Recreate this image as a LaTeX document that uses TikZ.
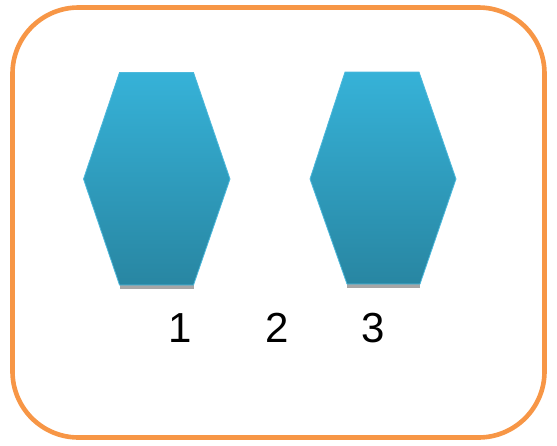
\documentclass[tikz,border=0pt]{standalone}
\usepackage{fontspec}
\setmainfont{Liberation Sans}
\definecolor{frameorange}{HTML}{F79646}
\definecolor{hextop}{HTML}{36B2D8}
\definecolor{hexbot}{HTML}{2886A2}
\definecolor{hexrim}{HTML}{4DB9DC}
\definecolor{hexfoot}{HTML}{A6A6A6}
\tikzset{
  hexcell/.style={top color=hextop, bottom color=hexbot, draw=hexrim, line width=0.8pt},
  numlabel/.style={font=\fontsize{42}{42}\selectfont, inner sep=0pt}
}
\begin{document}
\begin{tikzpicture}[x=1pt, y=-1pt]
  \useasboundingbox (0,0) rectangle (557,445);
  % Frame
  \draw[line width=4.6pt, frameorange, rounded corners=66pt] (12.5,7.5) rectangle (544.5,437.5);
  % Left cell
  \fill[hexfoot] (120,283) rectangle (194,289);
  \shade[hexcell] (119.5,72.5) -- (193.5,72.5) -- (230,179) -- (193.5,285) -- (119.5,285) -- (83.5,179) -- cycle;
  % Right cell
  \fill[hexfoot] (347,282) rectangle (420,288);
  \shade[hexcell] (345,72) -- (419,72) -- (456,179) -- (420,284) -- (347,284) -- (310,179) -- cycle;
  % Labels
  \node[numlabel] (one) at (180,328) {1};
  \node[numlabel] (two) at (277,328) {2};
  \node[numlabel] (three) at (373,328) {3};
\end{tikzpicture}
\end{document}
